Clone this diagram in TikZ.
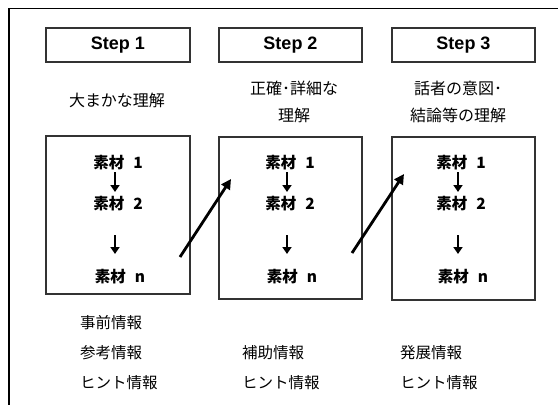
\documentclass[tikz,border=0pt]{standalone}
\usepackage{fontspec}
\setmainfont{Liberation Sans}
\newfontfamily\jp{Noto Sans CJK JP}
\usetikzlibrary{arrows.meta}
\begin{document}
\begin{tikzpicture}[x=1pt,y=-1pt,
  frame/.style={draw=black,line width=1.8pt},
  stepbox/.style={draw=black!80,line width=1.2pt,minimum height=34pt,inner sep=0pt,font=\fontsize{18}{20}\selectfont\bfseries},
  matbox/.style={draw=black!80,line width=1.2pt,inner sep=0pt},
  lab/.style={font=\fontsize{16}{27}\selectfont\jp,align=center,inner sep=0pt},
  info/.style={font=\fontsize{15.5}{18}\selectfont\jp,anchor=west,inner sep=0pt},
  mat/.style={font=\fontsize{15.5}{18}\selectfont\jp\bfseries,inner sep=0pt},
  sarrow/.style={line width=2.6pt,-{Triangle[length=7pt,width=9pt]}},
  barrow/.style={line width=2.8pt,-{Triangle[length=10pt,width=10pt]}}]
\useasboundingbox (0,0) rectangle (558,405);
\draw[frame] (9,410) -- (9,8.5) -- (565,8.5);
% step boxes
\node[stepbox,minimum width=144pt] (s1) at (118,45) {Step 1};
\node[stepbox,minimum width=143pt] (s2) at (290.5,45) {Step 2};
\node[stepbox,minimum width=143pt] (s3) at (463.5,45) {Step 3};
% labels
\node[lab] (l1) at (117,100) {大まかな理解};
\node[lab] (l2) at (294,101.5) {正確･詳細な\\理解};
\node[lab] (l3) at (458,101.5) {話者の意図･\\結論等の理解};
% material boxes
\node[matbox,minimum width=144pt,minimum height=158pt] (b1) at (118,215) {};
\node[matbox,minimum width=143pt,minimum height=162pt] (b2) at (290.5,218) {};
\node[matbox,minimum width=143pt,minimum height=163pt] (b3) at (463.5,218.5) {};
% materials
\foreach \i/\x in {1/118,2/290,3/461}{
  \node[mat] (m\i a) at (\x,163) {素材\hspace{9pt}1};
  \node[mat] (m\i b) at (\x,204) {素材\hspace{9pt}2};
  \node[mat] (m\i n) at (\x+2,277) {素材\hspace{9pt}n};
  \coordinate (a\i s) at (\x-3,172);
  \coordinate (a\i e) at (\x-3,192);
  \coordinate (c\i s) at (\x-3,235);
  \coordinate (c\i e) at (\x-3,254);
  \draw[sarrow] (a\i s) -- (a\i e);
  \draw[sarrow] (c\i s) -- (c\i e);
}
% big arrows
\coordinate (p1) at (180,257);
\coordinate (q1) at (231,179);
\coordinate (p2) at (352,253);
\coordinate (q2) at (404,174);
\draw[barrow] (p1) -- (q1);
\draw[barrow] (p2) -- (q2);
% info texts
\node[info] (i1) at (80,323) {事前情報};
\node[info] (i2) at (80,353) {参考情報};
\node[info] (i3) at (80,383) {ヒント情報};
\node[info] (j2) at (242,353) {補助情報};
\node[info] (j3) at (242,383) {ヒント情報};
\node[info] (k2) at (400,353) {発展情報};
\node[info] (k3) at (400,383) {ヒント情報};
\end{tikzpicture}
\end{document}
